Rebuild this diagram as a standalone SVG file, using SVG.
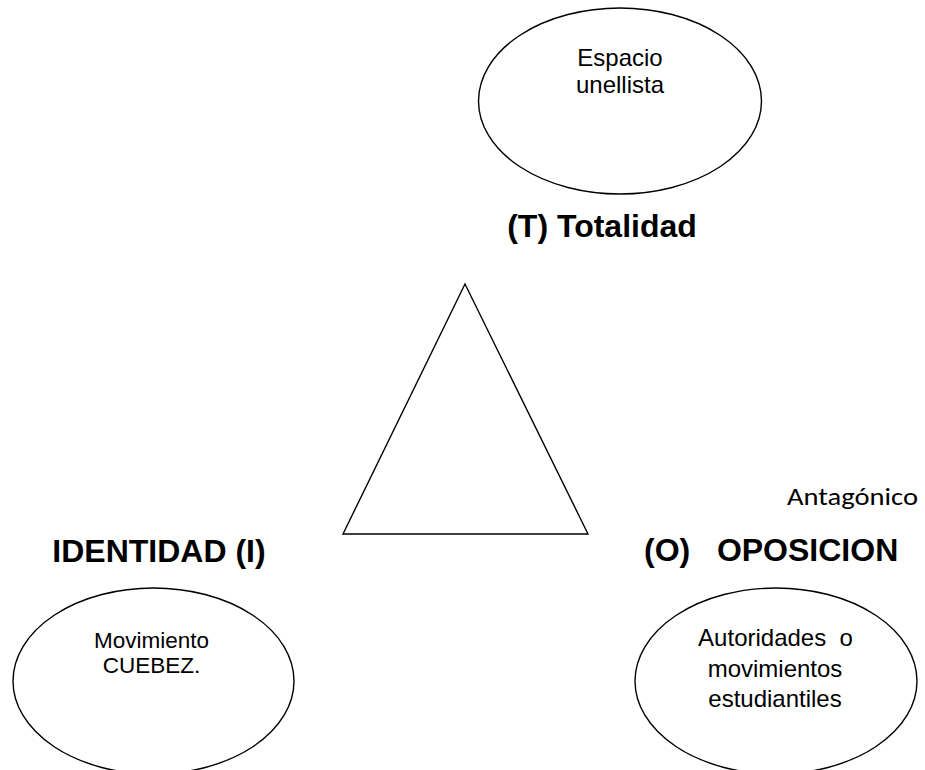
<svg xmlns="http://www.w3.org/2000/svg" width="925" height="770" viewBox="0 0 925 770">
<style>
.shape{fill:#fff;stroke:#000;stroke-width:1.4}
.body{font-family:"Liberation Sans",Arial,sans-serif;fill:#000;text-anchor:middle}
.title{font-family:"Liberation Sans",Arial,sans-serif;font-weight:bold;font-size:32px;fill:#000}
.cal{font-family:Calibri,Carlito,"Open Sans",sans-serif;font-size:25px;fill:#000}
</style>
<rect width="925" height="770" fill="#fff"/>
<g id="connectors"></g>
<g id="node-espacio">
<ellipse class="shape" cx="620" cy="101" rx="141.5" ry="93"/>
<text class="body" font-size="24" x="620" y="66">Espacio</text>
<text class="body" font-size="24" x="620" y="93">unellista</text>
</g>
<g id="label-totalidad">
<text class="title" x="602" y="237" text-anchor="middle">(T) Totalidad</text>
</g>
<g id="node-triangle">
<polygon class="shape" points="465,284 343,534 588,534"/>
</g>
<g id="label-identidad">
<text class="title" x="159" y="562" text-anchor="middle">IDENTIDAD (I)</text>
</g>
<g id="label-oposicion">
<text class="title" x="644" y="561" xml:space="preserve">(O)   OPOSICION</text>
</g>
<g id="label-antagonico">
<text class="cal" x="787" y="505" textLength="131" lengthAdjust="spacingAndGlyphs">Antagónico</text>
</g>
<g id="node-movimiento">
<ellipse class="shape" cx="153.5" cy="681" rx="140.5" ry="93"/>
<text class="body" font-size="22.5" x="151.5" y="648">Movimiento</text>
<text class="body" font-size="22.5" x="151.5" y="673">CUEBEZ.</text>
</g>
<g id="node-autoridades">
<ellipse class="shape" cx="776" cy="681" rx="141" ry="93"/>
<text class="body" font-size="24" x="775.5" y="646" xml:space="preserve">Autoridades  o</text>
<text class="body" font-size="24" x="775" y="677">movimientos</text>
<text class="body" font-size="24" x="775" y="707">estudiantiles</text>
</g>
</svg>
